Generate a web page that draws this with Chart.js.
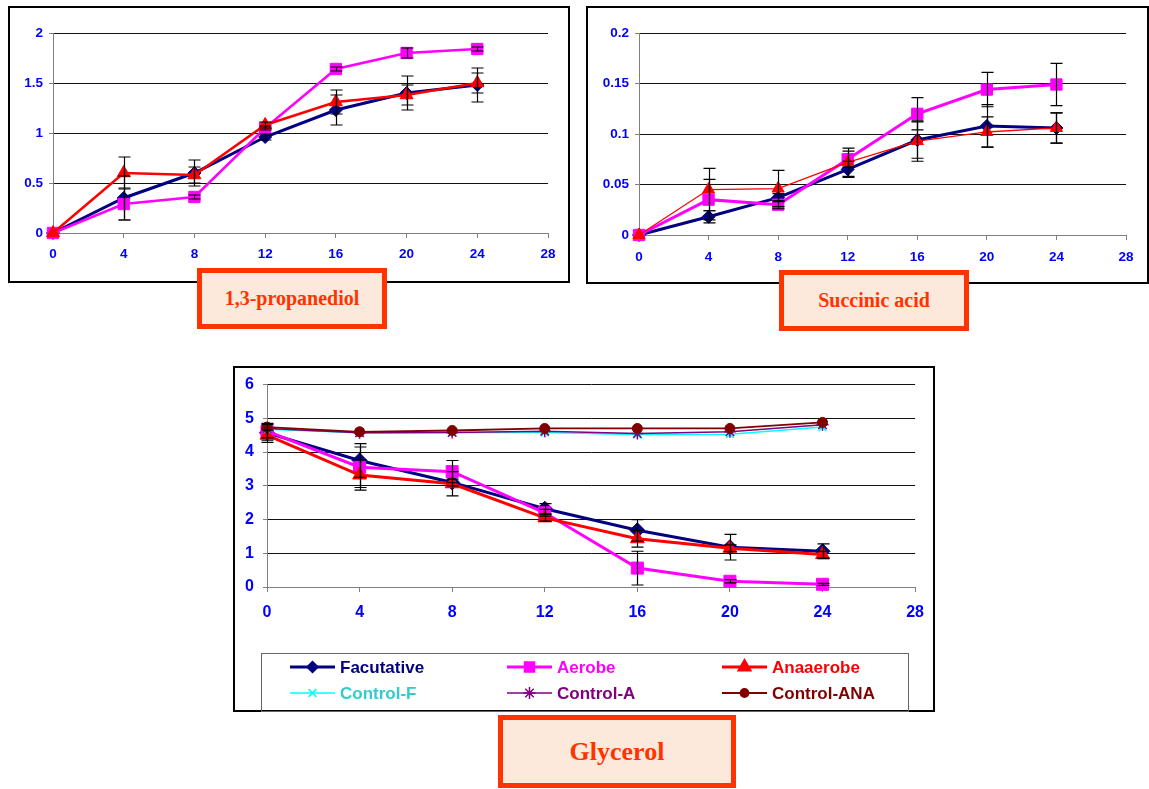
<!DOCTYPE html>
<html>
<head>
<meta charset="utf-8">
<script src="https://cdn.jsdelivr.net/npm/chart.js"></script>
<style>
  body { margin:0; background:#fff; width:1149px; height:789px; position:relative; overflow:hidden; }
  canvas { position:absolute; }
  .tag { position:absolute; box-sizing:border-box; border:5px solid #FF3300; background:#FDE9DC;
         color:#FF3300; font-family:"Liberation Serif","Times New Roman",serif; font-weight:bold;
         display:flex; align-items:center; justify-content:center; }
</style>
</head>
<body>
<canvas id="c1" width="562" height="277" style="left:8px;top:6px"></canvas>
<canvas id="c2" width="563" height="278" style="left:586px;top:6px"></canvas>
<canvas id="c3" width="702" height="346" style="left:233px;top:366px"></canvas>
<div class="tag" style="left:197px;top:268px;width:190px;height:61px;font-size:20px;">1,3-propanediol</div>
<div class="tag" style="left:779px;top:270px;width:190px;height:61px;font-size:20px;">Succinic acid</div>
<div class="tag" style="left:498px;top:715px;width:238px;height:73px;font-size:26px;">Glycerol</div>
<script>
// sampling times (h)
const hours = [0, 4, 8, 12, 16, 20, 24];
const hourTicks = [0, 4, 8, 12, 16, 20, 24, 28];

// 1,3-propanediol
const propYTicks = [0, 0.5, 1, 1.5, 2];
const propFac    = [0, 0.35, 0.60, 0.96, 1.23, 1.40, 1.48];
const propFacErr = [0, 0.22, 0.13, 0.03, 0.15, 0.17, 0.17];
const propAer    = [0, 0.29, 0.36, 1.05, 1.64, 1.80, 1.84];
const propAerErr = [0, 0.16, 0.02, 0.02, 0.02, 0.05, 0.02];
const propAna    = [0, 0.60, 0.58, 1.08, 1.31, 1.38, 1.50];
const propAnaErr = [0, 0.16, 0.08, 0.03, 0.12, 0.10, 0.10];

// Succinic acid
const succYTicks = [0, 0.05, 0.1, 0.15, 0.2];
const succFac    = [0, 0.018, 0.037, 0.065, 0.094, 0.108, 0.106];
const succFacErr = [0, 0.006, 0.004, 0.008, 0.018, 0.021, 0.015];
const succAer    = [0, 0.035, 0.030, 0.075, 0.120, 0.144, 0.149];
const succAerErr = [0, 0.020, 0.004, 0.008, 0.016, 0.017, 0.021];
const succAna    = [0, 0.045, 0.046, 0.072, 0.093, 0.102, 0.106];
const succAnaErr = [0, 0.021, 0.018, 0.014, 0.020, 0.015, 0.015];

// Glycerol
const glycYTicks = [0, 1, 2, 3, 4, 5, 6];
const glycFac    = [4.57, 3.75, 3.10, 2.32, 1.68, 1.18, 1.06];
const glycFacErr = [0.28, 0.50, 0.10, 0.15, 0.32, 0.38, 0.22];
const glycAer    = [4.62, 3.55, 3.42, 2.20, 0.56, 0.17, 0.08];
const glycAerErr = [0.20, 0.60, 0.33, 0.10, 0.50, 0.05, 0.03];
const glycAna    = [4.50, 3.32, 3.06, 2.05, 1.43, 1.15, 0.96];
const glycAnaErr = [0.15, 0.45, 0.36, 0.10, 0.25, 0.10, 0.10];
const glycCtlF   = [4.68, 4.57, 4.58, 4.58, 4.52, 4.53, 4.74];
const glycCtlA   = [4.70, 4.57, 4.58, 4.62, 4.55, 4.60, 4.81];
const glycCtlAna = [4.74, 4.60, 4.64, 4.70, 4.70, 4.70, 4.88];

const seriesNames = ['Facutative', 'Aerobe', 'Anaaerobe', 'Control-F', 'Control-A', 'Control-ANA'];
const NAVY = '#000080', MAGENTA = '#FF00FF', RED = '#FF0000', CYAN = '#00FFFF', PURPLE = '#800080', MAROON = '#800000';
const SANS = '"Liberation Sans", Arial, sans-serif';

function series(label, ys, errs, style) {
  return Object.assign({
    label,
    data: hours.map((h, i) => ({ x: h, y: ys[i] })),
    errorBars: errs,
    tension: 0,
    clip: false,
    borderWidth: 3
  }, style);
}

const facStyle = (r) => ({ borderColor: NAVY, backgroundColor: NAVY, pointStyle: 'rectRot', pointRadius: r, pointBorderWidth: 1, order: 6 });
const aerStyle = (r) => ({ borderColor: MAGENTA, backgroundColor: MAGENTA, pointStyle: 'rect', pointRadius: r, pointBorderWidth: 1, order: 5 });
const anaStyle = (r, w) => ({ borderColor: RED, backgroundColor: RED, pointStyle: 'triangle', pointRadius: r, pointBorderWidth: 1, borderWidth: w, order: 4 });

// white background + chart frame
const framePlugin = {
  id: 'frame',
  beforeDraw(chart) {
    const c = chart.ctx;
    c.save();
    c.fillStyle = '#fff';
    c.fillRect(0, 0, chart.width, chart.height);
    c.restore();
  },
  afterDraw(chart) {
    const c = chart.ctx;
    c.save();
    c.strokeStyle = '#000';
    c.lineWidth = 2;
    c.strokeRect(1, 1, chart.width - 2, chart.height - 2);
    c.restore();
  }
};

// vertical error bars with caps, from each dataset's errorBars array
const errorBarPlugin = {
  id: 'errorBars',
  afterDatasetsDraw(chart) {
    const c = chart.ctx, ys = chart.scales.y;
    c.save();
    c.strokeStyle = '#000';
    c.lineWidth = 1.2;
    chart.data.datasets.forEach((ds, i) => {
      if (!ds.errorBars) return;
      const meta = chart.getDatasetMeta(i);
      ds.data.forEach((p, j) => {
        const e = ds.errorBars[j];
        if (!e) return;
        const x = Math.round(meta.data[j].x) + 0.5;
        const t = ys.getPixelForValue(p.y + e), b = ys.getPixelForValue(p.y - e);
        c.beginPath();
        c.moveTo(x, t); c.lineTo(x, b);
        c.moveTo(x - 6, t); c.lineTo(x + 6, t);
        c.moveTo(x - 6, b); c.lineTo(x + 6, b);
        c.stroke();
      });
    });
    c.restore();
  }
};

function axes(o) {
  const tickFont = { family: SANS, size: o.font, weight: 'bold' };
  return {
    x: {
      type: 'linear', min: 0, max: 28,
      afterBuildTicks: s => { s.ticks = hourTicks.map(v => ({ value: v })); },
      afterFit: s => { s.height = o.xh; },
      ticks: { color: '#0000FF', font: tickFont, padding: o.xpad, maxRotation: 0, autoSkip: false, callback: v => String(v) },
      grid: { drawOnChartArea: false, drawTicks: true, tickLength: 5, tickColor: '#808080', tickWidth: 1 },
      border: { color: '#808080', width: 1 }
    },
    y: {
      type: 'linear', min: 0, max: o.ticks[o.ticks.length - 1],
      afterBuildTicks: s => { s.ticks = o.ticks.map(v => ({ value: v })); },
      afterFit: s => { s.width = o.yw; },
      ticks: { color: '#0000FF', font: tickFont, padding: o.ypad, callback: v => String(v) },
      grid: { color: '#111', lineWidth: 1, drawTicks: true, tickLength: 4, tickColor: '#808080' },
      border: { color: '#808080', width: 1 }
    }
  };
}

function baseOptions(o) {
  return {
    responsive: false,
    animation: false,
    events: [],
    layout: { padding: o.padding },
    plugins: { legend: { display: false }, tooltip: { enabled: false } },
    scales: axes(o)
  };
}

// 1,3-propanediol
new Chart(document.getElementById('c1'), {
  type: 'line',
  data: { datasets: [
    series(seriesNames[0], propFac, propFacErr, facStyle(6.5)),
    series(seriesNames[1], propAer, propAerErr, Object.assign(aerStyle(8), { borderWidth: 2.5 })),
    series(seriesNames[2], propAna, propAnaErr, anaStyle(7.5, 2.5))
  ] },
  options: baseOptions({ ticks: propYTicks, font: 13.5, xh: 50, yw: 45, xpad: 8, ypad: 6,
                         padding: { left: 0, right: 22, top: 27, bottom: 0 } }),
  plugins: [framePlugin, errorBarPlugin]
});

// Succinic acid
new Chart(document.getElementById('c2'), {
  type: 'line',
  data: { datasets: [
    series(seriesNames[0], succFac, succFacErr, facStyle(6.5)),
    series(seriesNames[1], succAer, succAerErr, aerStyle(8)),
    series(seriesNames[2], succAna, succAnaErr, anaStyle(7, 1.3))
  ] },
  options: baseOptions({ ticks: succYTicks, font: 13.5, xh: 49, yw: 53, xpad: 9, ypad: 6,
                         padding: { left: 0, right: 23, top: 27, bottom: 0 } }),
  plugins: [framePlugin, errorBarPlugin]
});

// legend drawn inside the glycerol frame, three columns by two rows
const glycLegendPlugin = {
  id: 'glycLegend',
  afterDraw(chart) {
    const c = chart.ctx;
    c.save();
    c.strokeStyle = '#666';
    c.lineWidth = 1;
    c.strokeRect(28.5, 287.5, 647, 58);
    const cols = [57, 274, 489], rows = [301, 327];
    const textColors = [NAVY, MAGENTA, RED, '#33CCCC', PURPLE, MAROON];
    chart.data.datasets.forEach((ds, i) => {
      const x0 = cols[i % 3], y = rows[Math.floor(i / 3)];
      c.strokeStyle = ds.borderColor;
      c.lineWidth = ds.borderWidth;
      c.beginPath(); c.moveTo(x0, y); c.lineTo(x0 + 45, y); c.stroke();
      c.fillStyle = ds.backgroundColor;
      c.strokeStyle = ds.borderColor;
      Chart.helpers.drawPoint(c, { pointStyle: ds.pointStyle, radius: ds.legendRadius, borderWidth: 1.2, rotation: 0 }, x0 + 22.5, y);
      c.font = 'bold 17px ' + SANS;
      c.fillStyle = textColors[i];
      c.textBaseline = 'middle';
      c.textAlign = 'left';
      c.fillText(ds.label, x0 + 50, y + 1);
    });
    c.restore();
  }
};

// Glycerol
new Chart(document.getElementById('c3'), {
  type: 'line',
  data: { datasets: [
    series(seriesNames[0], glycFac, glycFacErr, Object.assign(facStyle(7.5), { legendRadius: 4.5 })),
    series(seriesNames[1], glycAer, glycAerErr, Object.assign(aerStyle(8.5), { legendRadius: 6 })),
    series(seriesNames[2], glycAna, glycAnaErr, Object.assign(anaStyle(8, 3), { legendRadius: 6 })),
    series(seriesNames[3], glycCtlF, null, { borderColor: CYAN, backgroundColor: CYAN, borderWidth: 1.5, pointStyle: 'crossRot', pointRadius: 5.5, pointBorderWidth: 1.5, order: 3, legendRadius: 5.5 }),
    series(seriesNames[4], glycCtlA, null, { borderColor: PURPLE, backgroundColor: PURPLE, borderWidth: 1.5, pointStyle: 'star', pointRadius: 6, pointBorderWidth: 1.5, order: 2, legendRadius: 6 }),
    series(seriesNames[5], glycCtlAna, null, { borderColor: MAROON, backgroundColor: MAROON, borderWidth: 1.8, pointStyle: 'circle', pointRadius: 5, pointBorderWidth: 1, order: 1, legendRadius: 4 })
  ] },
  options: baseOptions({ ticks: glycYTicks, font: 16, xh: 55, yw: 34, xpad: 11, ypad: 9,
                         padding: { left: 0, right: 15, top: 17, bottom: 70 } }),
  plugins: [framePlugin, errorBarPlugin, glycLegendPlugin]
});
</script>
</body>
</html>
